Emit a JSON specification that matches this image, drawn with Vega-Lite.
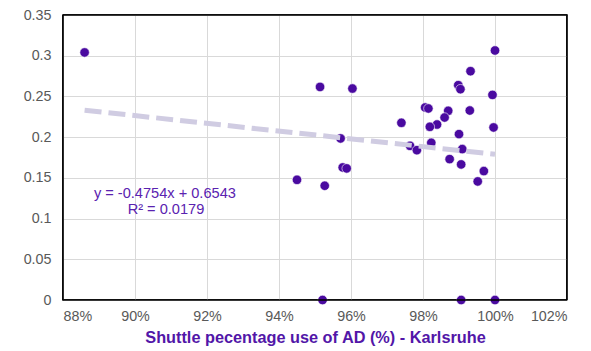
{
  "$schema": "https://vega.github.io/schema/vega-lite/v6.json",
  "width": 504,
  "height": 285,
  "autosize": "none",
  "padding": {"left": 63, "top": 15, "right": 24, "bottom": 51},
  "background": "white",
  "config": {
    "font": "Liberation Sans",
    "view": {"stroke": "#000000", "strokeWidth": 1.6},
    "axis": {
      "labelFont": "Liberation Sans",
      "labelFontSize": 14.3,
      "labelColor": "#595959",
      "grid": true,
      "gridWidth": 1,
      "gridColor": "#d9d9d9",
      "ticks": false,
      "domain": false
    }
  },
  "datasets": {
    "points": [
      {"x": 0.886, "y": 0.304},
      {"x": 0.9514, "y": 0.2617},
      {"x": 0.9604, "y": 0.2597},
      {"x": 1.0, "y": 0.3064},
      {"x": 0.9932, "y": 0.281},
      {"x": 0.9898, "y": 0.2638},
      {"x": 0.9904, "y": 0.2589},
      {"x": 0.9993, "y": 0.2519},
      {"x": 0.9806, "y": 0.2364},
      {"x": 0.9815, "y": 0.2352},
      {"x": 0.987, "y": 0.2323},
      {"x": 0.993, "y": 0.2327},
      {"x": 0.986, "y": 0.2241},
      {"x": 0.974, "y": 0.2176},
      {"x": 0.9839, "y": 0.2155},
      {"x": 0.9819, "y": 0.2127},
      {"x": 0.9996, "y": 0.2119},
      {"x": 0.99, "y": 0.2037},
      {"x": 0.9571, "y": 0.1984},
      {"x": 0.9823, "y": 0.193},
      {"x": 0.9764, "y": 0.1893},
      {"x": 0.9783, "y": 0.184},
      {"x": 0.9909, "y": 0.1853},
      {"x": 0.9874, "y": 0.173},
      {"x": 0.9906, "y": 0.1665},
      {"x": 0.9577, "y": 0.1628},
      {"x": 0.9588, "y": 0.1616},
      {"x": 0.9969, "y": 0.1583},
      {"x": 0.945, "y": 0.1476},
      {"x": 0.9527, "y": 0.1403},
      {"x": 0.9952, "y": 0.1456},
      {"x": 0.9521, "y": 0},
      {"x": 0.9906, "y": 0},
      {"x": 1.0, "y": 0}
    ],
    "trend": [
      {"x": 0.886, "y": 0.2331},
      {"x": 1.0, "y": 0.1789}
    ],
    "labels": [
      {"x": 0.9083, "y": 0.1301, "text": "y = -0.4754x + 0.6543"},
      {"x": 0.9086, "y": 0.1105, "text": "R² = 0.0179"}
    ]
  },
  "layer": [
    {
      "data": {"name": "points"},
      "mark": {"type": "circle", "size": 90, "color": "#4a0aa0", "opacity": 1, "stroke": "white", "strokeWidth": 0.6},
      "encoding": {
        "x": {
          "field": "x", "type": "quantitative",
          "scale": {"domain": [0.88, 1.02], "nice": false, "zero": false},
          "axis": {
            "values": [0.88, 0.9, 0.92, 0.94, 0.96, 0.98, 1.0, 1.02],
            "format": ".0%",
            "grid": true,
            "labelPadding": 9,
            "title": "Shuttle pecentage use of AD (%) - Karlsruhe",
            "titleFont": "Liberation Sans",
            "titleFontSize": 16.3,
            "titleFontWeight": "bold",
            "titleColor": "#5216a8",
            "titlePadding": 6
          }
        },
        "y": {
          "field": "y", "type": "quantitative",
          "scale": {"domain": [0, 0.35], "nice": false},
          "axis": {
            "values": [0, 0.05, 0.1, 0.15, 0.2, 0.25, 0.3, 0.35],
            "format": "~g",
            "grid": true,
            "labelPadding": 12,
            "title": null
          }
        }
      }
    },
    {
      "data": {"values": [{}]},
      "mark": {"type": "rule", "color": "#000000", "strokeWidth": 1.6},
      "encoding": {"y": {"datum": 0, "type": "quantitative"}}
    },
    {
      "data": {"values": [{}]},
      "mark": {"type": "rule", "color": "#000000", "strokeWidth": 1.6},
      "encoding": {"y": {"datum": 0.35, "type": "quantitative"}}
    },
    {
      "data": {"values": [{}]},
      "mark": {"type": "rule", "color": "#000000", "strokeWidth": 1.6},
      "encoding": {"x": {"datum": 0.88, "type": "quantitative"}}
    },
    {
      "data": {"values": [{}]},
      "mark": {"type": "rule", "color": "#000000", "strokeWidth": 1.6},
      "encoding": {"x": {"datum": 1.02, "type": "quantitative"}}
    },
    {
      "data": {"name": "trend"},
      "mark": {"type": "line", "color": "#d0cce2", "strokeWidth": 5, "strokeDash": [17, 7]},
      "encoding": {
        "x": {"field": "x", "type": "quantitative"},
        "y": {"field": "y", "type": "quantitative"}
      }
    },
    {
      "data": {"name": "labels"},
      "mark": {"type": "text", "color": "#5a22b0", "fontSize": 14.6, "font": "Liberation Sans", "align": "center", "baseline": "middle"},
      "encoding": {
        "x": {"field": "x", "type": "quantitative"},
        "y": {"field": "y", "type": "quantitative"},
        "text": {"field": "text"}
      }
    }
  ]
}
